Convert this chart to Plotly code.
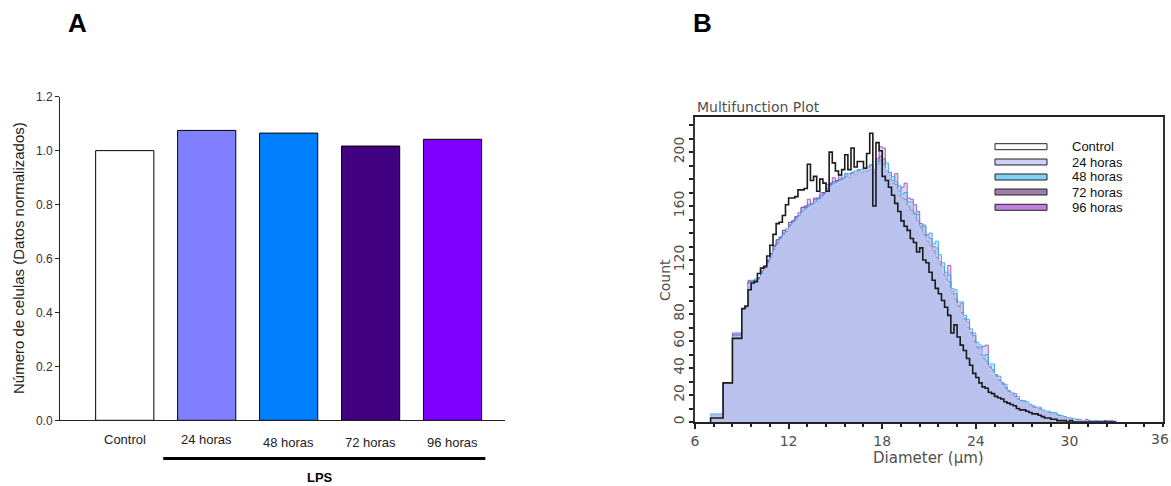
import plotly.graph_objects as go

# ---------------- Panel A: normalised cell number ----------------
groups = ["Control", "24 horas", "48 horas", "72 horas", "96 horas"]
cell_number_norm = [1.0, 1.075, 1.065, 1.017, 1.042]
bar_colors = ["#ffffff", "#8080ff", "#0080ff", "#400080", "#8000ff"]
y_ticks_a = [0.0, 0.2, 0.4, 0.6, 0.8, 1.0, 1.2]

# ---------------- Panel B: Coulter size distribution ----------------
diameter_um = [
    7.0, 7.2, 7.4, 7.6, 7.8, 8.0, 8.2, 8.4, 8.6, 8.8,
    9.0, 9.2, 9.4, 9.6, 9.8, 10.0, 10.2, 10.4, 10.6, 10.8,
    11.0, 11.2, 11.4, 11.6, 11.8, 12.0, 12.2, 12.4, 12.6, 12.8,
    13.0, 13.2, 13.4, 13.6, 13.8, 14.0, 14.2, 14.4, 14.6, 14.8,
    15.0, 15.2, 15.4, 15.6, 15.8, 16.0, 16.2, 16.4, 16.6, 16.8,
    17.0, 17.2, 17.4, 17.6, 17.8, 18.0, 18.2, 18.4, 18.6, 18.8,
    19.0, 19.2, 19.4, 19.6, 19.8, 20.0, 20.2, 20.4, 20.6, 20.8,
    21.0, 21.2, 21.4, 21.6, 21.8, 22.0, 22.2, 22.4, 22.6, 22.8,
    23.0, 23.2, 23.4, 23.6, 23.8, 24.0, 24.2, 24.4, 24.6, 24.8,
    25.0, 25.2, 25.4, 25.6, 25.8, 26.0, 26.2, 26.4, 26.6, 26.8,
    27.0, 27.2, 27.4, 27.6, 27.8, 28.0, 28.2, 28.4, 28.6, 28.8,
    29.0, 29.2, 29.4, 29.6, 29.8, 30.0, 30.2, 30.4, 30.6, 30.8,
    31.0, 31.2, 31.4, 31.6, 31.8, 32.0, 32.2, 32.4, 32.6, 32.8,
]

count_control = [
    3, 3, 3, 3, 29, 29, 29, 62, 62, 62,
    84, 86, 98, 103, 104, 110, 114, 115, 123, 131,
    139, 147, 148, 153, 161, 166, 166, 167, 172, 172,
    173, 191, 179, 182, 171, 180, 177, 171, 200, 192,
    186, 183, 187, 198, 187, 203, 189, 193, 193, 188,
    199, 214, 160, 207, 201, 182, 179, 174, 168, 162,
    156, 149, 145, 142, 136, 133, 126, 129, 120, 118,
    111, 105, 99, 95, 90, 85, 79, 66, 72, 63,
    57, 53, 47, 42, 36, 33, 29, 26, 25, 22,
    21, 19, 18, 17, 15, 14, 13, 12, 10, 9,
    9, 8, 7, 6, 6, 5, 4, 3, 3, 2,
    2, 1, 1, 1, 0, 1, 0, 0, 0, 0,
    0, 0, 0, 0, 0, 0, 0, 0, 0, 0,
]

count_24h = [
    5, 5, 5, 5, 29, 29, 29, 63, 63, 63,
    84, 84, 102, 103, 104, 105, 108, 112, 116, 120,
    126, 130, 134, 137, 140, 143, 146, 148, 151, 154,
    156, 158, 160, 161, 163, 165, 167, 170, 173, 175,
    176, 178, 179, 180, 182, 183, 184, 185, 186, 187,
    187, 188, 186, 189, 190, 188, 184, 179, 175, 172,
    166, 163, 160, 156, 152, 149, 145, 140, 136, 132,
    128, 124, 120, 115, 108, 104, 99, 94, 88, 84,
    79, 74, 68, 63, 58, 53, 49, 45, 42, 39,
    36, 33, 30, 27, 24, 22, 20, 18, 16, 15,
    14, 13, 12, 10, 10, 9, 8, 7, 6, 6,
    5, 4, 4, 3, 3, 2, 2, 1, 1, 1,
    1, 0, 1, 0, 0, 1, 0, 0, 0, 1,
]

count_48h = [
    6, 6, 6, 6, 29, 29, 29, 64, 64, 64,
    84, 84, 103, 104, 106, 106, 110, 114, 118, 122,
    128, 132, 136, 139, 141, 145, 148, 150, 153, 156,
    158, 160, 162, 163, 165, 166, 169, 172, 175, 177,
    178, 179, 181, 184, 184, 185, 186, 186, 187, 188,
    189, 191, 187, 193, 194, 191, 192, 183, 182, 178,
    175, 169, 170, 163, 163, 155, 154, 145, 146, 139,
    140, 132, 134, 124, 118, 111, 109, 99, 98, 89,
    89, 79, 76, 69, 66, 59, 57, 49, 50, 43,
    43, 35, 34, 29, 28, 23, 22, 19, 19, 16,
    16, 15, 13, 12, 11, 11, 9, 8, 8, 7,
    7, 5, 5, 4, 3, 3, 2, 2, 2, 1,
    1, 1, 1, 0, 1, 0, 0, 1, 0, 0,
]

count_72h = [
    5, 5, 5, 5, 29, 29, 29, 65, 65, 65,
    84, 85, 104, 104, 105, 107, 112, 115, 120, 125,
    131, 135, 137, 142, 141, 148, 149, 152, 153, 159,
    160, 161, 162, 165, 166, 168, 170, 173, 177, 178,
    179, 180, 180, 182, 182, 184, 184, 185, 185, 186,
    186, 187, 185, 191, 197, 195, 184, 180, 177, 176,
    168, 166, 165, 160, 157, 154, 149, 144, 139, 134,
    131, 127, 122, 117, 109, 106, 104, 95, 91, 86,
    81, 76, 70, 66, 60, 55, 50, 47, 45, 41,
    38, 34, 31, 28, 25, 23, 20, 19, 17, 15,
    14, 13, 12, 11, 10, 9, 8, 7, 6, 6,
    5, 5, 4, 3, 3, 2, 2, 1, 1, 1,
    1, 1, 1, 0, 0, 0, 1, 0, 0, 0,
]

count_96h = [
    5, 5, 5, 5, 29, 29, 29, 66, 66, 66,
    84, 85, 105, 105, 104, 106, 111, 116, 119, 124,
    130, 133, 137, 140, 143, 146, 149, 152, 155, 159,
    159, 165, 161, 166, 163, 170, 169, 176, 176, 181,
    178, 183, 180, 184, 181, 185, 183, 187, 185, 188,
    186, 190, 184, 195, 204, 203, 186, 185, 179, 184,
    171, 174, 177, 166, 165, 161, 156, 147, 145, 138,
    136, 130, 129, 119, 115, 108, 116, 97, 95, 86,
    88, 77, 74, 66, 64, 56, 55, 56, 57, 41,
    39, 35, 31, 29, 26, 23, 20, 21, 17, 16,
    15, 13, 12, 11, 10, 10, 8, 7, 7, 6,
    6, 5, 4, 4, 3, 2, 2, 2, 1, 1,
    2, 1, 0, 1, 0, 1, 0, 0, 1, 0,
]

legend_labels = ["Control", "24 horas", "48 horas", "72 horas", "96 horas"]
legend_swatches = ["#ffffff", "#d0d0f8", "#80d0f8", "#9a80a8", "#c080e0"]

x_ticks_b = [6, 12, 18, 24, 30, 36]
y_ticks_b = [0, 20, 40, 60, 80, 120, 160, 200]

# ---------------- page geometry (pixels) ----------------
W, H = 1171, 486
BIN_W = 0.2


def px_x(px):
    return px / W


def px_y(py):
    return (H - py) / H


def step_xy(counts):
    xs = [diameter_um[0]] + diameter_um + [diameter_um[-1] + BIN_W] * 2
    ys = [0] + counts + [counts[-1], 0]
    return xs, ys


def note(x, y, text, size, family, color, angle=0, xanchor="center", yanchor="middle"):
    return dict(x=px_x(x), y=px_y(y), xref="paper", yref="paper", text=text,
                showarrow=False, textangle=angle, xanchor=xanchor, yanchor=yanchor,
                font=dict(family=family, size=size, color=color))


fig = go.Figure()

# Panel A bars
fig.add_trace(go.Bar(
    x=groups, y=cell_number_norm,
    marker=dict(color=bar_colors, line=dict(color="#000000", width=1)),
    width=0.71, xaxis="x", yaxis="y", showlegend=False,
))

# Panel B overlaid histograms (LPS groups as translucent fills)
hist_series = [
    (count_72h, "rgba(160,150,205,0.45)", "rgba(70,40,110,0.85)"),
    (count_96h, "rgba(200,160,225,0.45)", "rgba(150,70,200,0.85)"),
    (count_48h, "rgba(150,200,240,0.45)", "rgba(40,170,235,0.85)"),
    (count_24h, "rgba(185,195,238,0.55)", "rgba(200,200,242,0.9)"),
]
for counts, fillc, linec in hist_series:
    xs, ys = step_xy(counts)
    fig.add_trace(go.Scatter(
        x=xs, y=ys, mode="lines", line=dict(shape="hv", color=linec, width=1),
        fill="tozeroy", fillcolor=fillc, xaxis="x2", yaxis="y2", showlegend=False,
        hoverinfo="skip",
    ))

xs, ys = step_xy(count_control)
fig.add_trace(go.Scatter(
    x=xs, y=ys, mode="lines", line=dict(shape="hv", color="#1a1a1a", width=1.6),
    xaxis="x2", yaxis="y2", showlegend=False, hoverinfo="skip",
))

font_a = "Liberation Sans, Arial, sans-serif"
font_b = "DejaVu Sans, Verdana, sans-serif"
grey_b = "#505050"

annotations = []
shapes = []

# Panel A category labels
label_shift = [-10, -10, -13, -13, -13]
for g, dy in zip(groups, label_shift):
    annotations.append(dict(
        x=g, y=px_y(420.3), xref="x", yref="paper", text=g, showarrow=False,
        xanchor="center", yanchor="top", yshift=dy,
        font=dict(family=font_a, size=13, color="#222222"),
    ))

# LPS bracket and label
shapes.append(dict(type="line", xref="x", yref="paper", x0=0.47, x1=4.4,
                   y0=px_y(458.5), y1=px_y(458.5), line=dict(color="#000000", width=3)))
annotations.append(note(320, 477, "<b>LPS</b>", 13, font_a, "#000000"))

# Panel A y title
annotations.append(note(18, 258, "Número de celulas (Datos normalizados)", 15, font_a, "#222222", angle=-90))

# Panel letters
annotations.append(note(77, 23, "<b>A</b>", 26, font_a, "#000000"))
annotations.append(note(702, 23, "<b>B</b>", 26, font_a, "#000000"))

# Panel B titles
annotations.append(note(695, 107, "Multifunction Plot", 14, font_b, grey_b, xanchor="left"))
annotations.append(note(928, 458, "Diameter (µm)", 15, font_b, grey_b))
annotations.append(note(665, 280, "Count", 14, font_b, grey_b, angle=-90))

# Last x tick label sits against the page edge, so it is placed by hand
annotations.append(dict(x=x_ticks_b[-1], y=px_y(422), xref="x2", yref="paper",
                        text=str(x_ticks_b[-1]), showarrow=False, xanchor="right",
                        yanchor="top", xshift=8, yshift=-7,
                        font=dict(family=font_b, size=14, color=grey_b)))

# Panel B legend
legend_rows = [146.7, 162.0, 177.0, 192.0, 207.3]
for lab, col, ry in zip(legend_labels, legend_swatches, legend_rows):
    shapes.append(dict(type="rect", xref="paper", yref="paper",
                       x0=px_x(995), x1=px_x(1047), y0=px_y(ry + 3), y1=px_y(ry - 3),
                       fillcolor=col, line=dict(color="#222222", width=1)))
    annotations.append(note(1070, ry, lab, 13, font_a, "#111111", xanchor="left"))

fig.update_layout(
    width=W, height=H, autosize=False,
    margin=dict(l=0, r=0, t=0, b=0, pad=0),
    paper_bgcolor="#ffffff", plot_bgcolor="#ffffff",
    bargap=0.3,
    xaxis=dict(
        domain=[px_x(60), px_x(505)], range=[-0.79, 4.64], type="category", automargin=False,
        showticklabels=False, ticks="", showgrid=False, zeroline=False,
        showline=True, linecolor="#222222", linewidth=1,
    ),
    yaxis=dict(
        domain=[px_y(420.3), px_y(96.7)], range=[0, 1.2], automargin=False,
        tickvals=y_ticks_a, ticktext=[f"{v:.1f}" for v in y_ticks_a],
        ticks="outside", ticklen=4, tickcolor="#222222", tickwidth=1,
        tickfont=dict(family=font_a, size=12, color="#333333"),
        showgrid=False, zeroline=False, showline=True, linecolor="#222222", linewidth=1,
    ),
    xaxis2=dict(
        domain=[px_x(695), px_x(1163)], range=[6, 36], anchor="y2", automargin=False,
        tickvals=x_ticks_b[:-1], ticks="outside", ticklen=5, tickwidth=1.5, tickcolor="#222222",
        minor=dict(dtick=1.2, tick0=6, ticks="outside", ticklen=3, tickcolor="#222222"),
        tickfont=dict(family=font_b, size=14, color=grey_b),
        showgrid=False, zeroline=False, showline=True, mirror=True,
        linecolor="#222222", linewidth=2,
    ),
    yaxis2=dict(
        domain=[px_y(422), px_y(117)], range=[0, 226], anchor="x2", automargin=False,
        tickvals=y_ticks_b, ticks="outside", ticklen=4, tickwidth=1.5, tickcolor="#222222",
        minor=dict(dtick=10, tick0=0, ticks="outside", ticklen=4, tickcolor="#222222"),
        tickangle=-90,
        tickfont=dict(family=font_b, size=14, color=grey_b),
        showgrid=False, zeroline=False, showline=True, mirror=True,
        linecolor="#333333", linewidth=1.5,
    ),
    annotations=annotations,
    shapes=shapes,
)

fig.write_html("out.html")
